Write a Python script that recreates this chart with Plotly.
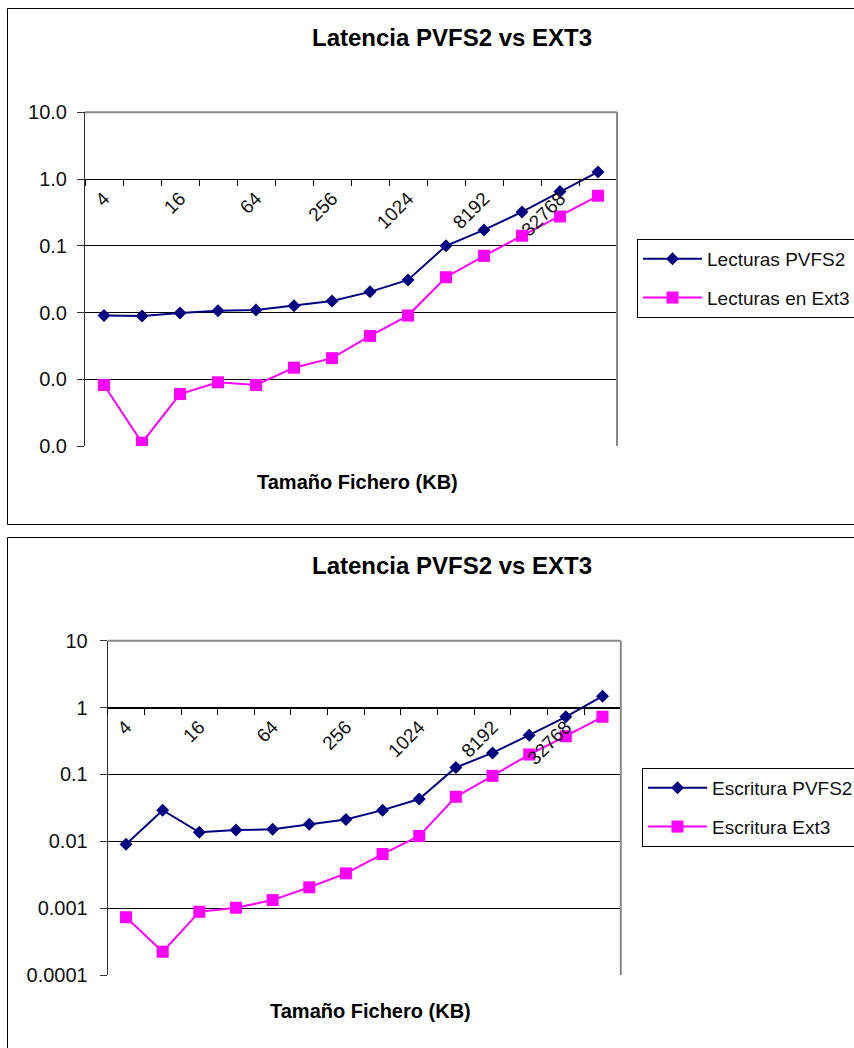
import math
import plotly.graph_objects as go

W, H = 854, 1048
FONT = "Liberation Sans, Arial, sans-serif"

# File sizes (KB) on the category axis; only every other one is labelled
tamanos = ["4", "8", "16", "32", "64", "128", "256", "512", "1024",
           "4096", "8192", "16384", "32768", "65536"]
etiquetas_x = ["4", "", "16", "", "64", "", "256", "", "1024",
               "", "8192", "", "32768", ""]

# Read latency (s)
lecturas_pvfs2 = [0.0090, 0.0089, 0.0098, 0.0106, 0.0109, 0.0126, 0.0149,
                  0.0204, 0.0308, 0.100, 0.173, 0.322, 0.65, 1.28]
lecturas_ext3 = [0.00082, 0.000112, 0.00060, 0.00090, 0.00082, 0.00149,
                 0.00207, 0.00446, 0.0090, 0.0338, 0.0706, 0.141, 0.274, 0.56]

# Write latency (s)
escritura_pvfs2 = [0.0090, 0.0292, 0.0136, 0.0147, 0.0151, 0.0179, 0.0212,
                   0.0292, 0.0428, 0.127, 0.210, 0.386, 0.726, 1.48]
escritura_ext3 = [0.00073, 0.000223, 0.00088, 0.00101, 0.00132, 0.00205,
                  0.00331, 0.00644, 0.0120, 0.0463, 0.0953, 0.198, 0.373, 0.726]

y_ticks = [1e-4, 1e-3, 1e-2, 1e-1, 1, 10]
y_text_lect = ["0.0", "0.0", "0.0", "0.1", "1.0", "10.0"]
y_text_esc = ["0.0001", "0.001", "0.01", "0.1", "1", "10"]

NAVY = "#000080"
MAGENTA = "#FF00FF"


def fx(px):
    return px / W


def fy(px):
    return 1 - px / H


# plot-area pixel boxes (left, top, right, bottom)
box_top = (85, 112.3, 617, 446)
box_bot = (107.7, 640.7, 620.8, 975)

fig = go.Figure()


def add_series(x, y, name, color, symbol, size, xa, ya, legend, group):
    fig.add_trace(go.Scatter(
        x=x, y=y, name=name, mode="lines+markers",
        line=dict(color=color, width=2),
        marker=dict(symbol=symbol, size=size, color=color),
        xaxis=xa, yaxis=ya, legend=legend, legendgroup=group,
    ))


add_series(tamanos, lecturas_pvfs2, "Lecturas PVFS2", NAVY, "diamond", 10, "x", "y", "legend", "a")
add_series(tamanos, lecturas_ext3, "Lecturas en Ext3", MAGENTA, "square", 12, "x", "y", "legend", "b")
add_series(tamanos, escritura_pvfs2, "Escritura PVFS2", NAVY, "diamond", 10, "x2", "y2", "legend2", "c")
add_series(tamanos, escritura_ext3, "Escritura Ext3", MAGENTA, "square", 12, "x2", "y2", "legend2", "d")


def x_axis(box):
    l, t, r, b = box
    # the category axis crosses the log axis at 1
    frac = (math.log10(1) - (-4)) / 5.0
    ypix = b - frac * (b - t)
    return dict(
        domain=[fx(l), fx(r)], anchor="free", position=fy(ypix),
        type="category", range=[-0.5, 13.5],
        tickmode="array", tickvals=tamanos, ticktext=etiquetas_x,
        tickson="boundaries", ticks="outside", ticklen=6, tickcolor="black",
        showline=True, linecolor="black", linewidth=1, showgrid=False,
        zeroline=False, tickangle=-45,
        tickfont=dict(family=FONT, size=19, color="#111"),
    )


def y_axis(box, xa, texts, standoff):
    l, t, r, b = box
    return dict(
        domain=[fy(b), fy(t)], anchor=xa, type="log", range=[-4, 1],
        tickmode="array", tickvals=y_ticks, ticktext=texts,
        showgrid=True, gridcolor="black", gridwidth=1,
        ticks="outside", ticklen=7, tickcolor="#333",
        showline=True, linecolor="#333", linewidth=1, zeroline=False,
        ticklabelstandoff=standoff,
        tickfont=dict(family=FONT, size=20, color="#111"),
    )


def legend_box(xpx, ypx):
    return dict(
        x=fx(xpx), y=fy(ypx), xanchor="left", yanchor="top",
        bgcolor="white", bordercolor="black", borderwidth=1,
        font=dict(family=FONT, size=19, color="#111"),
        tracegroupgap=11, itemwidth=59,
        entrywidth=240, entrywidthmode="pixels",
    )


shapes = []
for (l, t, r, b) in (box_top, box_bot):
    # grey plot-area border on top and right
    shapes.append(dict(type="line", xref="paper", yref="paper",
                       x0=fx(l), x1=fx(r), y0=fy(t), y1=fy(t),
                       line=dict(color="#888", width=2), layer="above"))
    shapes.append(dict(type="line", xref="paper", yref="paper",
                       x0=fx(r), x1=fx(r), y0=fy(t), y1=fy(b),
                       line=dict(color="#888", width=2), layer="above"))

# outer chart frames
shapes.append(dict(type="rect", xref="paper", yref="paper",
                   x0=fx(7.5), x1=fx(870), y0=fy(8.5), y1=fy(524.5),
                   line=dict(color="black", width=1), layer="below"))
shapes.append(dict(type="rect", xref="paper", yref="paper",
                   x0=fx(7.5), x1=fx(870), y0=fy(537.5), y1=fy(1070),
                   line=dict(color="black", width=1), layer="below"))

annotations = []
for cx, cy in ((452, 37), (452, 565.5)):
    annotations.append(dict(
        text="Latencia PVFS2 vs EXT3", xref="paper", yref="paper",
        x=fx(cx), y=fy(cy), xanchor="center", yanchor="middle",
        showarrow=False, font=dict(family=FONT, size=24, color="black", weight="bold"),
    ))
for cx, cy in ((357, 482), (370.5, 1011)):
    annotations.append(dict(
        text="Tamaño Fichero (KB)", xref="paper", yref="paper",
        x=fx(cx), y=fy(cy), xanchor="center", yanchor="middle",
        showarrow=False, font=dict(family=FONT, size=20, color="black", weight="bold"),
    ))

fig.update_layout(
    width=W, height=H,
    margin=dict(l=0, r=0, t=0, b=0, autoexpand=False),
    paper_bgcolor="white", plot_bgcolor="white",
    showlegend=True,
    xaxis=x_axis(box_top),
    yaxis=y_axis(box_top, "x", y_text_lect, 6),
    xaxis2=x_axis(box_bot),
    yaxis2=y_axis(box_bot, "x2", y_text_esc, 8),
    legend=legend_box(637, 239),
    legend2=legend_box(642, 768),
    shapes=shapes,
    annotations=annotations,
    font=dict(family=FONT),
)

fig.write_html("out.html")
